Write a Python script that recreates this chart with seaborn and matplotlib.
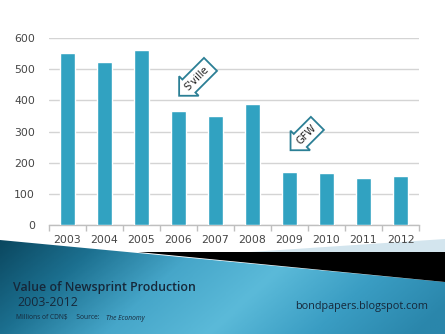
import numpy as np
import pandas as pd
import matplotlib
matplotlib.use("Agg")
import matplotlib.pyplot as plt
from matplotlib.colors import LinearSegmentedColormap
from matplotlib.patches import Polygon
import seaborn as sns

years = ["2003", "2004", "2005", "2006", "2007", "2008", "2009", "2010", "2011", "2012"]
values = [551, 523, 561, 367, 349, 389, 170, 167, 151, 157]
yticks = [0, 100, 200, 300, 400, 500, 600]
callouts = ["S'ville", "GFW"]
callout_x = [3.5, 6.45]
callout_y = [472, 290]

sns.set_theme(style="white")
plt.rcParams['font.family'] = ['DejaVu Sans']

W, H = 445, 334
fig = plt.figure(figsize=(W / 100, H / 100), dpi=100)
fig.patch.set_facecolor("white")

# background decoration
bg = fig.add_axes([0, 0, 1, 1], zorder=0)
bg.set_xlim(0, W)
bg.set_ylim(H, 0)
bg.axis("off")
cmap = LinearSegmentedColormap.from_list(
    "band", ["#0a465e", "#1c7090", "#46a6c9", "#5bbad9", "#3a9dc3", "#2a86ab"])
gx = np.linspace(0, 1, 256)
gy = np.linspace(0, 1, 64)[:, None]
grad = np.clip(gx[None, :] * 0.85 + 0.2 * gy, 0, 1)
img = bg.imshow(grad, extent=[0, W, H, 236], cmap=cmap, aspect="auto", zorder=1)
blue_poly = Polygon([(0, 240), (W, 282), (W, H), (0, H)], closed=True,
                    fc="none", ec="none")
bg.add_patch(blue_poly)
img.set_clip_path(blue_poly)
bg.add_patch(Polygon([(250, 252), (W, 239), (W, 252)], closed=True,
                     fc="#d3e5ee", ec="none", zorder=2))
bg.add_patch(Polygon([(138, 252), (W, 252), (W, 282)], closed=True,
                     fc="#000000", ec="none", zorder=3))

ax = fig.add_axes([49 / W, 1 - 225 / H, 370 / W, (225 - 38) / H], zorder=2)
ax.patch.set_alpha(0)
df = pd.DataFrame({"year": years, "value": values})
sns.barplot(data=df, x="year", y="value", color="#31a2c1", saturation=1,
            width=0.39, ax=ax, zorder=3)
ax.set_ylim(0, 600)
ax.set_xlim(-0.5, len(years) - 0.5)
ax.set_yticks(yticks)
ax.set_xlabel("")
ax.set_ylabel("")
ax.grid(axis="y", color="#d4d4d4", linewidth=1)
ax.set_axisbelow(True)
for s in ["top", "right", "left"]:
    ax.spines[s].set_visible(False)
ax.spines["bottom"].set_color("#bfbfbf")
ax.spines["bottom"].set_linewidth(1)
ax.tick_params(axis="x", length=0, pad=7, labelsize=7.8, labelcolor="#454545")
ax.tick_params(axis="y", length=0, pad=10, labelsize=7.8, labelcolor="#454545")
ax.set_xticks(np.arange(-0.5, len(years) + 0.5, 1), minor=True)
ax.tick_params(axis="x", which="minor", bottom=True, length=4, color="#bfbfbf", width=1)

for lab, xx, yy in zip(callouts, callout_x, callout_y):
    ax.text(xx, yy, lab, rotation=45, ha="center", va="center", fontsize=7.2,
            color="#222222",
            bbox=dict(boxstyle="larrow,pad=0.42", fc="white", ec="#2b7f95", lw=1.3),
            zorder=5)

fig.text(13 / W, 1 - 287 / H, "Value of Newsprint Production", fontsize=8.9,
         color="#16283a", ha="left", va="center", family=["Open Sans"], weight="semibold")
fig.text(17 / W, 1 - 302 / H, "2003-2012", fontsize=8.9,
         color="#16283a", ha="left", va="center", family=["Open Sans"])
fig.text(16 / W, 1 - 318 / H, "Millions of CDN$     Source:", fontsize=4.8,
         color="#16283a", ha="left", va="center", family=["Open Sans"])
fig.text(106 / W, 1 - 318 / H, "The Economy", fontsize=4.8, style="italic",
         color="#16283a", ha="left", va="center", family=["Open Sans"])
fig.text(428 / W, 1 - 307 / H, "bondpapers.blogspot.com", fontsize=7.8,
         color="#16283a", ha="right", va="center", family=["Open Sans"])

fig.savefig("out.png", dpi=100)
